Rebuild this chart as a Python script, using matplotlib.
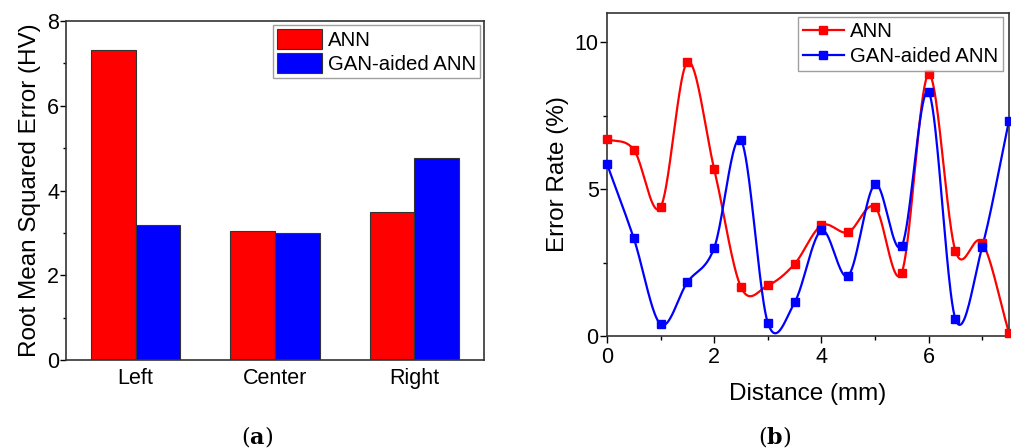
import numpy as np
import matplotlib
matplotlib.use('Agg')
import matplotlib.pyplot as plt
from matplotlib.ticker import MultipleLocator

plt.rcParams['font.family'] = ['Liberation Sans', 'DejaVu Sans']

# (a) RMSE per position
positions = ['Left', 'Center', 'Right']
rmse_ann = [7.31, 3.04, 3.50]
rmse_gan = [3.18, 2.99, 4.76]

# (b) error rate along distance
distance = [0, 0.5, 1.0, 1.5, 2.0, 2.5, 3.0, 3.5, 4.0, 4.5, 5.0, 5.5, 6.0, 6.5, 7.0, 7.5]
err_ann = [6.70, 6.34, 4.38, 9.32, 5.68, 1.66, 1.72, 2.45, 3.76, 3.53, 4.39, 2.16, 8.91, 2.90, 3.18, 0.11]
err_gan = [5.85, 3.32, 0.40, 1.83, 3.00, 6.66, 0.45, 1.14, 3.59, 2.05, 5.16, 3.07, 8.30, 0.58, 3.03, 7.33]

RED = '#ff0000'
BLUE = '#0000ff'


def spline_curve(x, y, n=40):
    # Catmull-Rom style smoothing through the points (line drawing only)
    x = np.asarray(x, float); y = np.asarray(y, float)
    k = len(x)
    m = np.zeros(k)
    m[1:-1] = (y[2:] - y[:-2]) / (x[2:] - x[:-2])
    m[0] = (y[1] - y[0]) / (x[1] - x[0])
    m[-1] = (y[-1] - y[-2]) / (x[-1] - x[-2])
    xs, ys = [], []
    for i in range(k - 1):
        h = x[i + 1] - x[i]
        t = np.linspace(0, 1, n, endpoint=(i == k - 2))
        h00 = 2 * t ** 3 - 3 * t ** 2 + 1
        h10 = t ** 3 - 2 * t ** 2 + t
        h01 = -2 * t ** 3 + 3 * t ** 2
        h11 = t ** 3 - t ** 2
        xs.append(x[i] + t * h)
        ys.append(h00 * y[i] + h10 * h * m[i] + h01 * y[i + 1] + h11 * h * m[i + 1])
    return np.concatenate(xs), np.concatenate(ys)


fig = plt.figure(figsize=(10.11, 4.48), dpi=100)

# ---- (a) bar chart
ax1 = fig.add_axes([0.0653, 0.1964, 0.4134, 0.7566])
xi = np.arange(len(positions))
w = 0.32
ax1.bar(xi - w / 2, rmse_ann, w, color=RED, edgecolor='#333333', linewidth=0.8, label='ANN')
ax1.bar(xi + w / 2, rmse_gan, w, color=BLUE, edgecolor='#333333', linewidth=0.8, label='GAN-aided ANN')
ax1.set_xlim(-0.5, 2.5)
ax1.set_ylim(0, 8)
ax1.set_xticks(xi)
ax1.set_xticklabels(positions)
ax1.yaxis.set_major_locator(MultipleLocator(2))
ax1.yaxis.set_minor_locator(MultipleLocator(1))
ax1.tick_params(axis='x', length=0, pad=6, labelsize=15.5)
ax1.tick_params(axis='y', which='major', length=4, width=1, pad=1, labelsize=15.5)
ax1.tick_params(axis='y', which='minor', length=2.5, width=1)
ax1.set_ylabel('Root Mean Squared Error (HV)', fontsize=17.5)
ax1.yaxis.set_label_coords(-0.06, 0.5)
ax1.legend(loc='upper right', fontsize=14.7, frameon=True, fancybox=False,
           edgecolor='#888888', borderpad=0.2, handlelength=2.2, handleheight=1.1,
           handletextpad=0.3, labelspacing=0.15, borderaxespad=0.2)
for sp in ax1.spines.values():
    sp.set_linewidth(1.2)
    sp.set_color('#333333')

# ---- (b) line chart
ax2 = fig.add_axes([0.6004, 0.25, 0.3976, 0.7217])
for yv, col, lab in [(err_ann, RED, 'ANN'), (err_gan, BLUE, 'GAN-aided ANN')]:
    sx, sy = spline_curve(distance, yv)
    ax2.plot(sx, sy, color=col, lw=1.6, zorder=2)
    ax2.plot(distance, yv, 's', color=col, ms=5.5, zorder=3, clip_on=False)
    ax2.plot([], [], '-s', color=col, lw=1.6, ms=5.5, label=lab)
ax2.set_xlim(0, 7.5)
ax2.set_ylim(0, 11)
ax2.xaxis.set_major_locator(MultipleLocator(2))
ax2.xaxis.set_minor_locator(MultipleLocator(1))
ax2.yaxis.set_major_locator(MultipleLocator(5))
ax2.yaxis.set_minor_locator(MultipleLocator(2.5))
ax2.tick_params(which='major', length=5, width=1, labelsize=15.5)
ax2.tick_params(which='minor', length=3, width=1)
ax2.tick_params(axis='y', pad=1)
ax2.tick_params(axis='x', pad=3)
ax2.set_xlabel('Distance (mm)', fontsize=17.5)
ax2.xaxis.set_label_coords(0.5, -0.145)
ax2.set_ylabel('Error Rate (%)', fontsize=17.5)
ax2.yaxis.set_label_coords(-0.095, 0.5)
ax2.legend(loc='upper right', fontsize=14.7, frameon=True, fancybox=False,
           edgecolor='#888888', borderpad=0.25, handlelength=2.0,
           handletextpad=0.3, labelspacing=0.3, borderaxespad=0.0,
           bbox_to_anchor=(0.985, 0.987))
for sp in ax2.spines.values():
    sp.set_linewidth(1.2)
    sp.set_color('#333333')

# subfigure captions
for xc, letter in [(0.254, 'a'), (0.766, 'b')]:
    fig.text(xc, 0.025, '(' + r'$\mathbf{' + letter + '}$' + ')', ha='center', va='center',
             fontsize=16, family=['DejaVu Serif'], math_fontfamily='dejavuserif')

fig.savefig('out.png', dpi=100)
